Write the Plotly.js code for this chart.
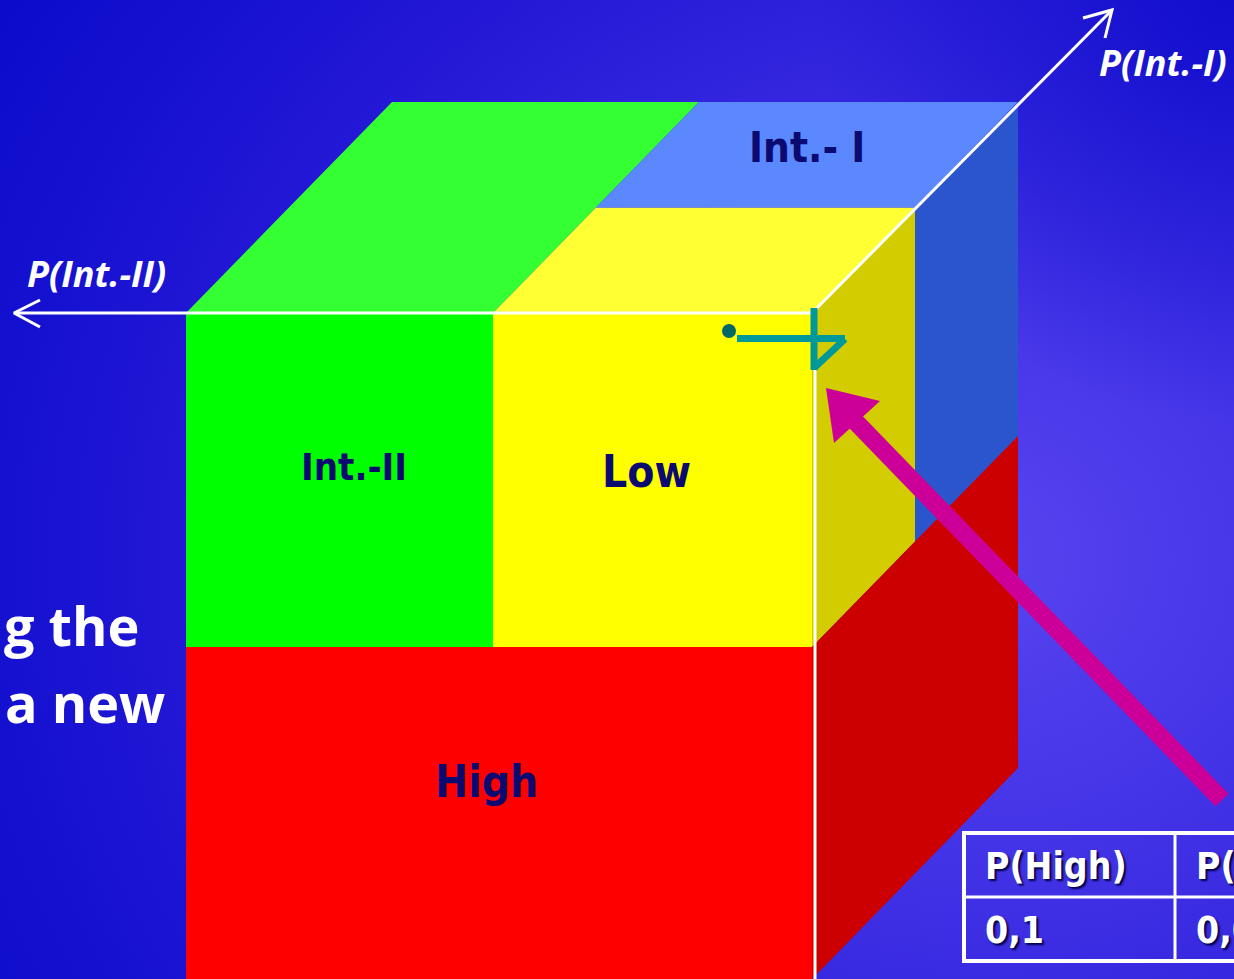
<!DOCTYPE html>
<html><head><meta charset="utf-8">
<script src="https://cdn.plot.ly/plotly-3.0.1.min.js"></script>
<style>
html,body{margin:0;padding:0;overflow:hidden;}
#chart{width:1234px;height:979px;
background:
 radial-gradient(circle 420px at 1234px 0px, rgba(8,8,200,0.75) 0%, rgba(8,8,200,0) 100%),
 radial-gradient(ellipse 1000px 900px at 980px 560px,#5844f0 0%,#4636e8 28%,#3628e0 52%,#2418d6 78%,#1410d0 100%,#0808c8 125%);}
</style></head><body><div id="chart"></div>
<script>
// ---- data: category regions of the probability cube ----
const categories = ['Int.-II', 'Low', 'High', 'Int.- I'];
const axisLabels = ['P(Int.-II)', 'P(Int.-I)'];
const tableHeaders = ['P(High)', 'P(Low)'];
const tableValues = ['0,1', '0,05'];
const sideText = ['g the', 'a new'];

// cube geometry (pixel space of the slide)
const frontX = [186, 493, 812];      // left, Int.-II | Low split, right
const frontY = [313, 647, 979];      // top, Low | High split, bottom
const depth = [206, -211];           // receding offset (dx, dy)
const depthSplit = 0.5;              // Int.-I occupies back half

const X0 = frontX[0], XS = frontX[1], X1 = frontX[2];
const Y0 = frontY[0], YS = frontY[1], Y1 = frontY[2];
const DX = depth[0], DY = depth[1];
const hx = DX * depthSplit, hy = DY * depthSplit;

function poly(pts, color) {
  return {type: 'scatter', mode: 'lines', fill: 'toself', fillcolor: color,
    x: pts.map(p => p[0]).concat([pts[0][0]]), y: pts.map(p => p[1]).concat([pts[0][1]]),
    line: {width: 0, color: color}, hoverinfo: 'skip', showlegend: false};
}
function seg(xs, ys, color, w) {
  return {type: 'scatter', mode: 'lines', x: xs, y: ys, line: {color: color, width: w},
    hoverinfo: 'skip', showlegend: false};
}

const traces = [
  // front faces
  poly([[X0, Y0], [XS, Y0], [XS, YS], [X0, YS]], '#00ff00'),
  poly([[XS, Y0], [X1, Y0], [X1, YS], [XS, YS]], '#ffff00'),
  poly([[X0, YS], [X1, YS], [X1, Y1], [X0, Y1]], '#ff0000'),
  // top faces
  poly([[X0, Y0], [XS, Y0], [XS + DX, Y0 + DY], [X0 + DX, Y0 + DY]], '#33ff33'),
  poly([[XS, Y0], [X1, Y0], [X1 + hx, Y0 + hy], [XS + hx, Y0 + hy]], '#ffff33'),
  poly([[XS + hx, Y0 + hy], [X1 + hx, Y0 + hy], [X1 + DX, Y0 + DY], [XS + DX, Y0 + DY]], '#5b87ff'),
  // side faces
  poly([[X1, Y0], [X1 + hx, Y0 + hy], [X1 + hx, YS + hy], [X1, YS]], '#d2cc00'),
  poly([[X1 + hx, Y0 + hy], [X1 + DX, Y0 + DY], [X1 + DX, YS + DY], [X1 + hx, YS + hy]], '#2b55cc'),
  poly([[X1, YS], [X1 + DX, YS + DY], [X1 + DX, Y1 + DY], [X1, Y1]], '#cc0000'),
  // white axes
  seg([14, X1], [Y0, Y0], '#ffffff', 3),
  seg([40, 14, 40], [300, Y0, 327], '#ffffff', 3),
  seg([X1, 1112], [Y0, 10], '#ffffff', 3),
  seg([1083, 1112, 1105], [18, 10, 38], '#ffffff', 3),
  seg([815, 815], [Y0, Y1], '#ffffff', 3),
  // teal marker
  seg([737, 845], [338.5, 338.5], '#009999', 7),
  seg([814, 814], [308, 370], '#009999', 7),
  seg([845, 814], [339, 368], '#009999', 7),
  {type: 'scatter', mode: 'markers', x: [729], y: [331], marker: {size: 14, color: '#006666'},
    hoverinfo: 'skip', showlegend: false},
  // magenta arrow
  seg([1222, 852], [800, 418], '#cc0099', 18),
  poly([[826, 388], [880, 401], [834, 443]], '#cc0099')
];

const navy = '#0a0a70';
const lab = (t, x, y, s, c, extra) => Object.assign({text: t, x: x, y: y, xref: 'x', yref: 'y',
  showarrow: false, xanchor: 'center', yanchor: 'middle',
  font: {family: 'DejaVu Sans Condensed, DejaVu Sans, sans-serif', size: s, color: c, weight: 'bold'}}, extra || {});

const annotations = [
  lab(categories[3], 807, 147, 42, navy),
  lab(categories[0], 354, 467, 38, navy),
  lab(categories[1], 646, 471, 44, navy),
  lab(categories[2], 486, 781, 44, navy),
  lab(axisLabels[1], 1097, 62, 36, '#ffffff', {xanchor: 'left',
    font: {family: 'Open Sans, sans-serif', size: 36, color: '#ffffff', weight: 'bold', style: 'italic'}}),
  lab(axisLabels[0], 25, 273, 36, '#ffffff', {xanchor: 'left',
    font: {family: 'Open Sans, sans-serif', size: 36, color: '#ffffff', weight: 'bold', style: 'italic'}}),
  lab(sideText[0], 2, 625, 54, '#ffffff', {xanchor: 'left',
    font: {family: 'Open Sans, sans-serif', size: 54, color: '#ffffff', weight: 'bold'}}),
  lab(sideText[1], 3, 702, 54, '#ffffff', {xanchor: 'left',
    font: {family: 'Open Sans, sans-serif', size: 54, color: '#ffffff', weight: 'bold'}})
];

// table
const tX = [964, 1175, 1386], tY = [833, 897, 961];
tableHeaders.forEach((h, i) => {
  annotations.push(lab(h, tX[i] + 19, (tY[0] + tY[1]) / 2 + 1, 37, '#ffffff', {xanchor: 'left',
    font: {family: 'DejaVu Sans Condensed, DejaVu Sans, sans-serif', size: 37, color: '#ffffff', weight: 'bold', shadow: '2px 2px 2px #000044'}}));
  annotations.push(lab(tableValues[i], tX[i] + 19, (tY[1] + tY[2]) / 2 + 1, 37, '#ffffff', {xanchor: 'left',
    font: {family: 'DejaVu Sans Condensed, DejaVu Sans, sans-serif', size: 37, color: '#ffffff', weight: 'bold', shadow: '2px 2px 2px #000044'}}));
});
const shapes = [
  {type: 'rect', xref: 'x', yref: 'y', x0: tX[0], x1: tX[2], y0: tY[0], y1: tY[2], line: {color: '#ffffff', width: 4}},
  {type: 'line', xref: 'x', yref: 'y', x0: tX[1], x1: tX[1], y0: tY[0], y1: tY[2], line: {color: '#ffffff', width: 3}},
  {type: 'line', xref: 'x', yref: 'y', x0: tX[0], x1: tX[2], y0: tY[1], y1: tY[1], line: {color: '#ffffff', width: 3}}
];

Plotly.newPlot('chart', traces, {
  width: 1234, height: 979, margin: {l: 0, r: 0, t: 0, b: 0, pad: 0},
  paper_bgcolor: 'rgba(0,0,0,0)', plot_bgcolor: 'rgba(0,0,0,0)',
  xaxis: {range: [0, 1234], visible: false, fixedrange: true},
  yaxis: {range: [979, 0], visible: false, fixedrange: true},
  annotations: annotations, shapes: shapes, showlegend: false
}, {displayModeBar: false, staticPlot: true});
</script></body></html>
